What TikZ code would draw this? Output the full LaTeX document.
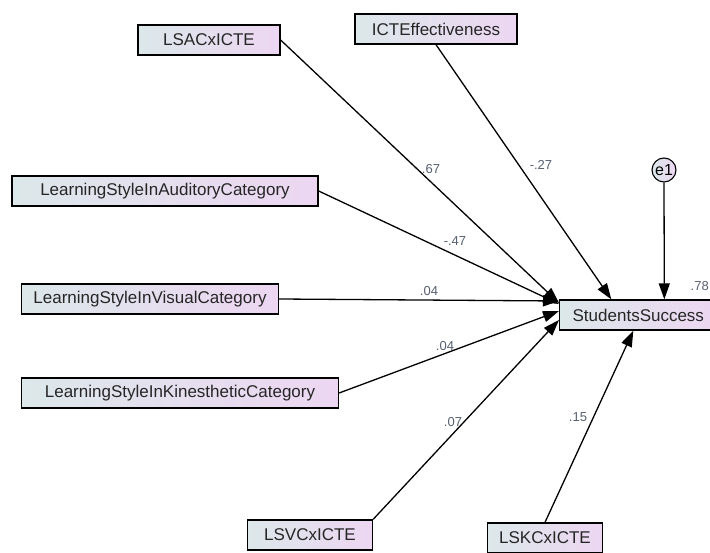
\documentclass[tikz,border=0pt]{standalone}
\usepackage{fontspec}
\setmainfont{Liberation Sans}
\usepackage{tikz}
\usetikzlibrary{calc,arrows.meta}
\definecolor{boxleft}{HTML}{DCE8EA}
\definecolor{boxright}{HTML}{EDD6F2}
\definecolor{wtcol}{HTML}{56606E}

\tikzset{
  varbox/.style={draw=black, line width=1.3pt, left color=boxleft, right color=boxright,
    minimum height=30pt, inner sep=0pt, font=\fontsize{17}{19}\selectfont, text=black!85},
  errcirc/.style={draw=black, line width=1.1pt, circle, left color=boxleft, right color=boxright,
    minimum size=24pt, inner sep=0pt, font=\fontsize{16}{18}\selectfont},
  wt/.style={font=\fontsize{13}{15}\selectfont, text=wtcol},
  path/.style={line width=1.3pt, -{Triangle[length=16pt,width=11pt]}}
}

\begin{document}
\begin{tikzpicture}[x=1pt,y=-1pt]
\useasboundingbox (0,0) rectangle (710,553);
\clip (0,0) rectangle (710,553);
% observed variables
\node[varbox, minimum width=142pt] (lsac) at (209,40) {LSACxICTE};
\node[varbox, minimum width=162pt] (icte) at (436,29) {ICTEffectiveness};
\node[varbox, minimum width=306pt] (aud) at (165,191) {LearningStyleInAuditoryCategory};
\node[varbox, minimum width=257pt] (vis) at (150,299) {LearningStyleInVisualCategory};
\node[varbox, minimum width=317pt] (kin) at (180,393) {LearningStyleInKinestheticCategory};
\node[varbox, minimum width=125pt] (lsvc) at (310,535) {LSVCxICTE};
\node[varbox, minimum width=115pt] (lskc) at (545,538) {LSKCxICTE};
\node[varbox, inner xsep=13pt, anchor=west] (succ) at (559,315) {StudentsSuccess};
\node[errcirc] (e1) at (664,170) {e1};

% paths
\draw[path] (lsac.east) -- ([yshift=12pt]succ.west);
\draw[path] (icte.south) -- ([xshift=-27pt]succ.north);
\draw[path] (aud.east) -- ([yshift=11pt]succ.west);
\draw[path] (vis.east) -- ([yshift=14pt]succ.west);
\draw[path] (kin.east) -- ([yshift=4pt]succ.west);
\draw[path] (lsvc.north east) -- ([yshift=-5pt]succ.west);
\draw[path] (lskc.north) -- ([xshift=-5pt]succ.south);
\draw[path] (e1.south) -- ([xshift=26pt]succ.north);

% weights
\node[wt] (w1) at (431,169) {.67};
\node[wt] (w2) at (541,165) {-.27};
\node[wt] (w3) at (455,241) {-.47};
\node[wt] (w4) at (429,291) {.04};
\node[wt] (w5) at (445,346) {.04};
\node[wt] (w6) at (453,422) {.07};
\node[wt] (w7) at (578,417) {.15};
\node[wt, anchor=east, inner xsep=1pt] (r2) at (710,286) {.78};
\end{tikzpicture}
\end{document}
